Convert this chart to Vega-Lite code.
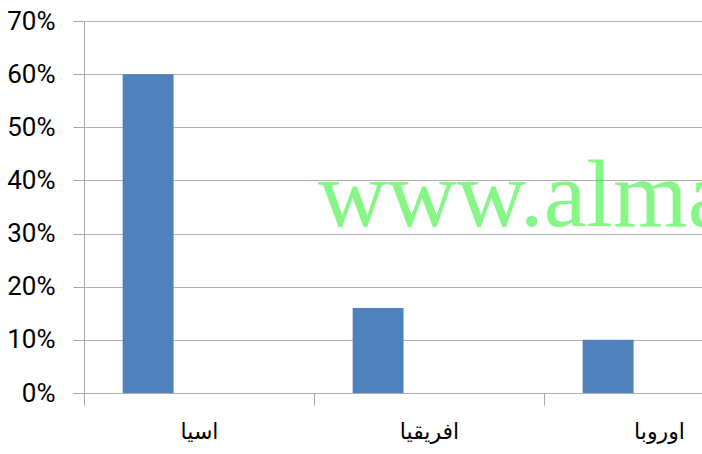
{
  "$schema": "https://vega.github.io/schema/vega-lite/v6.json",
  "autosize": {"type": "none"},
  "padding": {"left": 84, "top": 21, "right": 0, "bottom": 61},
  "width": 618,
  "height": 372,
  "background": "white",
  "datasets": {
    "bars": [
      {"region": "اسيا", "series": "s1", "share": 0.60},
      {"region": "افريقيا", "series": "s1", "share": 0.16},
      {"region": "اوروبا", "series": "s1", "share": 0.10}
    ],
    "mark": [
      {"region": "افريقيا", "share": 0.314, "label": "www.almaany.com"}
    ]
  },
  "config": {
    "view": {"stroke": null},
    "axis": {"domainColor": "#a6a6a6", "tickColor": "#a6a6a6", "gridColor": "#b0b0b0", "domainWidth": 1, "tickWidth": 1, "gridWidth": 1.2}
  },
  "layer": [
    {
      "data": {"name": "bars"},
      "mark": {"type": "bar", "color": "#4f81bd"},
      "encoding": {
        "x": {
          "field": "region", "type": "nominal", "sort": null,
          "scale": {"domain": ["اسيا", "افريقيا", "اوروبا"], "range": [0, 690], "paddingInner": 0, "paddingOuter": 0},
          "axis": {"title": null, "labelAngle": 0, "tickBand": "extent", "tickSize": 12, "labelPadding": 16, "labelFont": "DejaVu Sans", "labelFontSize": 22, "labelColor": "#000000", "domain": false, "grid": false}
        },
        "xOffset": {
          "field": "series", "type": "nominal",
          "scale": {"domain": ["s1", "s2", "s3"], "paddingInner": 0, "paddingOuter": 0.76}
        },
        "y": {
          "field": "share", "type": "quantitative",
          "scale": {"domain": [0, 0.7], "nice": false},
          "axis": {"title": null, "values": [0, 0.1, 0.2, 0.3, 0.4, 0.5, 0.6, 0.7], "format": ".0%", "tickSize": 11, "labelPadding": 18, "labelFont": "Roboto", "labelFontSize": 26, "labelColor": "#000000", "grid": true, "domain": true}
        }
      }
    },
    {
      "data": {"name": "mark"},
      "mark": {"type": "text", "font": "Liberation Serif", "fontSize": 96, "align": "left", "baseline": "alphabetic", "dx": 4, "color": "#00ee00", "opacity": 0.47},
      "encoding": {
        "x": {"field": "region", "type": "nominal", "bandPosition": 0},
        "y": {"field": "share", "type": "quantitative"},
        "text": {"field": "label"}
      }
    }
  ]
}
